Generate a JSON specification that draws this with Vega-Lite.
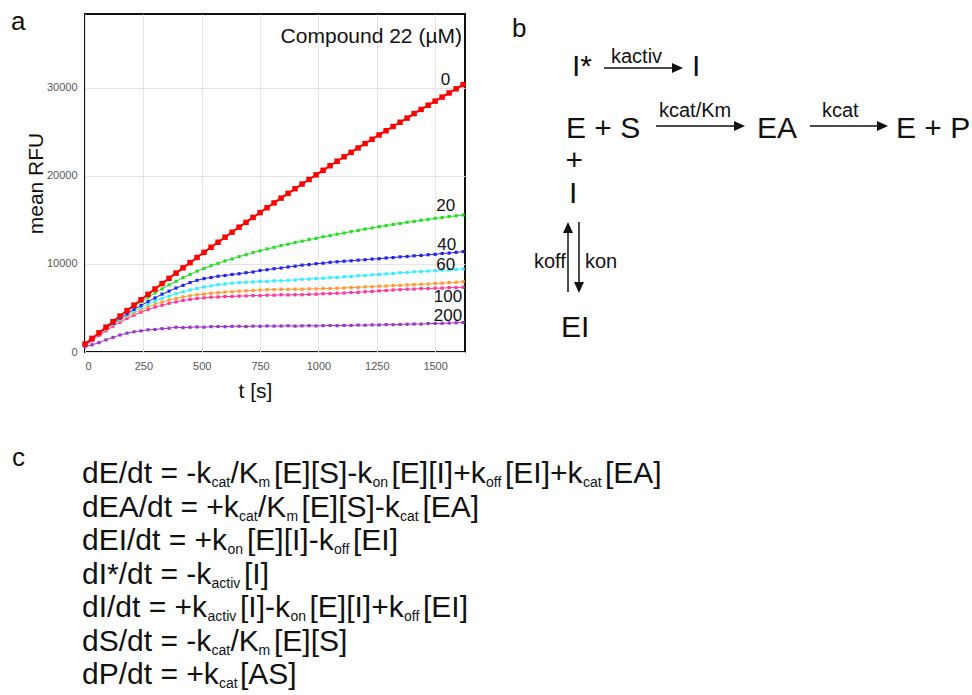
{
"$schema": "https://vega.github.io/schema/vega-lite/v6.json",
"width": 380,
"height": 338,
"autosize": "none",
"padding": {"left": 85, "top": 14, "right": 507, "bottom": 343},
"background": "white",
"config": {
"font": "Liberation Sans",
"view": {"stroke": "#111111", "strokeWidth": 2},
"axis": {"labelFont": "Liberation Sans", "titleFont": "Liberation Sans", "labelFontSize": 11, "labelColor": "#555555", "titleFontSize": 21, "titleFontWeight": "normal", "titleColor": "#111111", "gridColor": "#e4e4e4", "gridWidth": 1, "domain": false, "ticks": false},
"text": {"font": "Liberation Sans", "color": "#111111"}
},
"datasets": {
"curves": [
{"c":"200","t":0,"v":600},{"c":"200","t":30,"v":820},{"c":"200","t":60,"v":1060},{"c":"200","t":90,"v":1380},{"c":"200","t":120,"v":1660},{"c":"200","t":150,"v":1930},{"c":"200","t":180,"v":2140},{"c":"200","t":210,"v":2290},{"c":"200","t":240,"v":2400},{"c":"200","t":270,"v":2520},{"c":"200","t":300,"v":2560},{"c":"200","t":330,"v":2650},{"c":"200","t":360,"v":2700},{"c":"200","t":390,"v":2820},{"c":"200","t":420,"v":2760},{"c":"200","t":450,"v":2810},{"c":"200","t":480,"v":2850},{"c":"200","t":510,"v":2820},{"c":"200","t":540,"v":2880},{"c":"200","t":570,"v":2900},{"c":"200","t":600,"v":2870},{"c":"200","t":630,"v":2910},{"c":"200","t":660,"v":2930},{"c":"200","t":690,"v":2890},{"c":"200","t":720,"v":2940},{"c":"200","t":750,"v":2920},{"c":"200","t":780,"v":2960},{"c":"200","t":810,"v":2940},{"c":"200","t":840,"v":2950},{"c":"200","t":870,"v":2980},{"c":"200","t":900,"v":2940},{"c":"200","t":930,"v":2970},{"c":"200","t":960,"v":2990},{"c":"200","t":990,"v":2960},{"c":"200","t":1020,"v":2990},{"c":"200","t":1050,"v":3010},{"c":"200","t":1080,"v":2990},{"c":"200","t":1110,"v":3030},{"c":"200","t":1140,"v":3020},{"c":"200","t":1170,"v":3060},{"c":"200","t":1200,"v":3040},{"c":"200","t":1230,"v":3080},{"c":"200","t":1260,"v":3070},{"c":"200","t":1290,"v":3110},{"c":"200","t":1320,"v":3100},{"c":"200","t":1350,"v":3140},{"c":"200","t":1380,"v":3150},{"c":"200","t":1410,"v":3180},{"c":"200","t":1440,"v":3170},{"c":"200","t":1470,"v":3230},{"c":"200","t":1500,"v":3240},{"c":"200","t":1530,"v":3260},{"c":"200","t":1560,"v":3290},{"c":"200","t":1590,"v":3320},{"c":"200","t":1620,"v":3360},
{"c":"100","t":0,"v":700},{"c":"100","t":30,"v":1290},{"c":"100","t":60,"v":1890},{"c":"100","t":90,"v":2410},{"c":"100","t":120,"v":2930},{"c":"100","t":150,"v":3370},{"c":"100","t":180,"v":3810},{"c":"100","t":210,"v":4170},{"c":"100","t":240,"v":4530},{"c":"100","t":270,"v":4810},{"c":"100","t":300,"v":5100},{"c":"100","t":330,"v":5310},{"c":"100","t":360,"v":5530},{"c":"100","t":390,"v":5690},{"c":"100","t":420,"v":5860},{"c":"100","t":450,"v":5960},{"c":"100","t":480,"v":6090},{"c":"100","t":510,"v":6150},{"c":"100","t":540,"v":6230},{"c":"100","t":570,"v":6250},{"c":"100","t":600,"v":6300},{"c":"100","t":630,"v":6310},{"c":"100","t":660,"v":6360},{"c":"100","t":690,"v":6370},{"c":"100","t":720,"v":6410},{"c":"100","t":750,"v":6400},{"c":"100","t":780,"v":6460},{"c":"100","t":810,"v":6450},{"c":"100","t":840,"v":6500},{"c":"100","t":870,"v":6480},{"c":"100","t":900,"v":6510},{"c":"100","t":930,"v":6500},{"c":"100","t":960,"v":6550},{"c":"100","t":990,"v":6570},{"c":"100","t":1020,"v":6620},{"c":"100","t":1050,"v":6630},{"c":"100","t":1080,"v":6680},{"c":"100","t":1110,"v":6700},{"c":"100","t":1140,"v":6760},{"c":"100","t":1170,"v":6780},{"c":"100","t":1200,"v":6840},{"c":"100","t":1230,"v":6870},{"c":"100","t":1260,"v":6950},{"c":"100","t":1290,"v":6980},{"c":"100","t":1320,"v":7050},{"c":"100","t":1350,"v":7080},{"c":"100","t":1380,"v":7140},{"c":"100","t":1410,"v":7150},{"c":"100","t":1440,"v":7200},{"c":"100","t":1470,"v":7200},{"c":"100","t":1500,"v":7250},{"c":"100","t":1530,"v":7260},{"c":"100","t":1560,"v":7310},{"c":"100","t":1590,"v":7320},{"c":"100","t":1620,"v":7360},
{"c":"80","t":0,"v":820},{"c":"80","t":30,"v":1420},{"c":"80","t":60,"v":2030},{"c":"80","t":90,"v":2570},{"c":"80","t":120,"v":3110},{"c":"80","t":150,"v":3570},{"c":"80","t":180,"v":4030},{"c":"80","t":210,"v":4410},{"c":"80","t":240,"v":4800},{"c":"80","t":270,"v":5110},{"c":"80","t":300,"v":5430},{"c":"80","t":330,"v":5670},{"c":"80","t":360,"v":5910},{"c":"80","t":390,"v":6080},{"c":"80","t":420,"v":6270},{"c":"80","t":450,"v":6390},{"c":"80","t":480,"v":6510},{"c":"80","t":510,"v":6580},{"c":"80","t":540,"v":6680},{"c":"80","t":570,"v":6730},{"c":"80","t":600,"v":6810},{"c":"80","t":630,"v":6850},{"c":"80","t":660,"v":6920},{"c":"80","t":690,"v":6950},{"c":"80","t":720,"v":7010},{"c":"80","t":750,"v":7030},{"c":"80","t":780,"v":7080},{"c":"80","t":810,"v":7090},{"c":"80","t":840,"v":7130},{"c":"80","t":870,"v":7120},{"c":"80","t":900,"v":7140},{"c":"80","t":930,"v":7130},{"c":"80","t":960,"v":7170},{"c":"80","t":990,"v":7170},{"c":"80","t":1020,"v":7210},{"c":"80","t":1050,"v":7210},{"c":"80","t":1080,"v":7250},{"c":"80","t":1110,"v":7270},{"c":"80","t":1140,"v":7330},{"c":"80","t":1170,"v":7340},{"c":"80","t":1200,"v":7400},{"c":"80","t":1230,"v":7420},{"c":"80","t":1260,"v":7480},{"c":"80","t":1290,"v":7490},{"c":"80","t":1320,"v":7550},{"c":"80","t":1350,"v":7570},{"c":"80","t":1380,"v":7630},{"c":"80","t":1410,"v":7650},{"c":"80","t":1440,"v":7700},{"c":"80","t":1470,"v":7720},{"c":"80","t":1500,"v":7790},{"c":"80","t":1530,"v":7820},{"c":"80","t":1560,"v":7890},{"c":"80","t":1590,"v":7920},{"c":"80","t":1620,"v":7990},
{"c":"60","t":0,"v":830},{"c":"60","t":30,"v":1460},{"c":"60","t":60,"v":2040},{"c":"60","t":90,"v":2640},{"c":"60","t":120,"v":3170},{"c":"60","t":150,"v":3710},{"c":"60","t":180,"v":4170},{"c":"60","t":210,"v":4640},{"c":"60","t":240,"v":5040},{"c":"60","t":270,"v":5440},{"c":"60","t":300,"v":5770},{"c":"60","t":330,"v":6090},{"c":"60","t":360,"v":6350},{"c":"60","t":390,"v":6620},{"c":"60","t":420,"v":6830},{"c":"60","t":450,"v":7050},{"c":"60","t":480,"v":7210},{"c":"60","t":510,"v":7390},{"c":"60","t":540,"v":7510},{"c":"60","t":570,"v":7650},{"c":"60","t":600,"v":7730},{"c":"60","t":630,"v":7830},{"c":"60","t":660,"v":7870},{"c":"60","t":690,"v":7940},{"c":"60","t":720,"v":7960},{"c":"60","t":750,"v":8020},{"c":"60","t":780,"v":8030},{"c":"60","t":810,"v":8080},{"c":"60","t":840,"v":8090},{"c":"60","t":870,"v":8150},{"c":"60","t":900,"v":8180},{"c":"60","t":930,"v":8260},{"c":"60","t":960,"v":8290},{"c":"60","t":990,"v":8350},{"c":"60","t":1020,"v":8380},{"c":"60","t":1050,"v":8440},{"c":"60","t":1080,"v":8470},{"c":"60","t":1110,"v":8550},{"c":"60","t":1140,"v":8590},{"c":"60","t":1170,"v":8660},{"c":"60","t":1200,"v":8700},{"c":"60","t":1230,"v":8770},{"c":"60","t":1260,"v":8810},{"c":"60","t":1290,"v":8880},{"c":"60","t":1320,"v":8920},{"c":"60","t":1350,"v":9000},{"c":"60","t":1380,"v":9030},{"c":"60","t":1410,"v":9100},{"c":"60","t":1440,"v":9130},{"c":"60","t":1470,"v":9200},{"c":"60","t":1500,"v":9230},{"c":"60","t":1530,"v":9290},{"c":"60","t":1560,"v":9320},{"c":"60","t":1590,"v":9390},{"c":"60","t":1620,"v":9430},
{"c":"40","t":0,"v":850},{"c":"40","t":30,"v":1490},{"c":"40","t":60,"v":2090},{"c":"40","t":90,"v":2710},{"c":"40","t":120,"v":3260},{"c":"40","t":150,"v":3830},{"c":"40","t":180,"v":4330},{"c":"40","t":210,"v":4840},{"c":"40","t":240,"v":5280},{"c":"40","t":270,"v":5740},{"c":"40","t":300,"v":6140},{"c":"40","t":330,"v":6570},{"c":"40","t":360,"v":6910},{"c":"40","t":390,"v":7270},{"c":"40","t":420,"v":7570},{"c":"40","t":450,"v":7890},{"c":"40","t":480,"v":8140},{"c":"40","t":510,"v":8340},{"c":"40","t":540,"v":8460},{"c":"40","t":570,"v":8610},{"c":"40","t":600,"v":8690},{"c":"40","t":630,"v":8810},{"c":"40","t":660,"v":8890},{"c":"40","t":690,"v":9010},{"c":"40","t":720,"v":9090},{"c":"40","t":750,"v":9260},{"c":"40","t":780,"v":9340},{"c":"40","t":810,"v":9460},{"c":"40","t":840,"v":9540},{"c":"40","t":870,"v":9660},{"c":"40","t":900,"v":9750},{"c":"40","t":930,"v":9870},{"c":"40","t":960,"v":9930},{"c":"40","t":990,"v":10030},{"c":"40","t":1020,"v":10090},{"c":"40","t":1050,"v":10190},{"c":"40","t":1080,"v":10250},{"c":"40","t":1110,"v":10320},{"c":"40","t":1140,"v":10360},{"c":"40","t":1170,"v":10440},{"c":"40","t":1200,"v":10480},{"c":"40","t":1230,"v":10560},{"c":"40","t":1260,"v":10600},{"c":"40","t":1290,"v":10680},{"c":"40","t":1320,"v":10730},{"c":"40","t":1350,"v":10810},{"c":"40","t":1380,"v":10850},{"c":"40","t":1410,"v":10930},{"c":"40","t":1440,"v":10970},{"c":"40","t":1470,"v":11050},{"c":"40","t":1500,"v":11100},{"c":"40","t":1530,"v":11190},{"c":"40","t":1560,"v":11240},{"c":"40","t":1590,"v":11330},{"c":"40","t":1620,"v":11400},
{"c":"20","t":0,"v":880},{"c":"20","t":30,"v":1520},{"c":"20","t":60,"v":2160},{"c":"20","t":90,"v":2790},{"c":"20","t":120,"v":3420},{"c":"20","t":150,"v":4020},{"c":"20","t":180,"v":4610},{"c":"20","t":210,"v":5150},{"c":"20","t":240,"v":5710},{"c":"20","t":270,"v":6190},{"c":"20","t":300,"v":6710},{"c":"20","t":330,"v":7170},{"c":"20","t":360,"v":7630},{"c":"20","t":390,"v":8030},{"c":"20","t":420,"v":8450},{"c":"20","t":450,"v":8810},{"c":"20","t":480,"v":9190},{"c":"20","t":510,"v":9490},{"c":"20","t":540,"v":9810},{"c":"20","t":570,"v":10070},{"c":"20","t":600,"v":10350},{"c":"20","t":630,"v":10570},{"c":"20","t":660,"v":10830},{"c":"20","t":690,"v":11050},{"c":"20","t":720,"v":11290},{"c":"20","t":750,"v":11490},{"c":"20","t":780,"v":11710},{"c":"20","t":810,"v":11890},{"c":"20","t":840,"v":12090},{"c":"20","t":870,"v":12250},{"c":"20","t":900,"v":12440},{"c":"20","t":930,"v":12590},{"c":"20","t":960,"v":12770},{"c":"20","t":990,"v":12910},{"c":"20","t":1020,"v":13090},{"c":"20","t":1050,"v":13220},{"c":"20","t":1080,"v":13390},{"c":"20","t":1110,"v":13520},{"c":"20","t":1140,"v":13690},{"c":"20","t":1170,"v":13810},{"c":"20","t":1200,"v":13970},{"c":"20","t":1230,"v":14090},{"c":"20","t":1260,"v":14240},{"c":"20","t":1290,"v":14350},{"c":"20","t":1320,"v":14500},{"c":"20","t":1350,"v":14600},{"c":"20","t":1380,"v":14740},{"c":"20","t":1410,"v":14840},{"c":"20","t":1440,"v":14970},{"c":"20","t":1470,"v":15060},{"c":"20","t":1500,"v":15190},{"c":"20","t":1530,"v":15270},{"c":"20","t":1560,"v":15390},{"c":"20","t":1590,"v":15470},{"c":"20","t":1620,"v":15570},
{"c":"0","t":0,"v":900},{"c":"0","t":30,"v":1540},{"c":"0","t":60,"v":2180},{"c":"0","t":90,"v":2820},{"c":"0","t":120,"v":3450},{"c":"0","t":150,"v":4080},{"c":"0","t":180,"v":4700},{"c":"0","t":210,"v":5320},{"c":"0","t":240,"v":5940},{"c":"0","t":270,"v":6550},{"c":"0","t":300,"v":7160},{"c":"0","t":330,"v":7770},{"c":"0","t":360,"v":8370},{"c":"0","t":390,"v":8960},{"c":"0","t":420,"v":9560},{"c":"0","t":450,"v":10150},{"c":"0","t":480,"v":10740},{"c":"0","t":510,"v":11320},{"c":"0","t":540,"v":11900},{"c":"0","t":570,"v":12470},{"c":"0","t":600,"v":13040},{"c":"0","t":630,"v":13610},{"c":"0","t":660,"v":14180},{"c":"0","t":690,"v":14730},{"c":"0","t":720,"v":15290},{"c":"0","t":750,"v":15840},{"c":"0","t":780,"v":16390},{"c":"0","t":810,"v":16940},{"c":"0","t":840,"v":17480},{"c":"0","t":870,"v":18020},{"c":"0","t":900,"v":18550},{"c":"0","t":930,"v":19080},{"c":"0","t":960,"v":19600},{"c":"0","t":990,"v":20130},{"c":"0","t":1020,"v":20640},{"c":"0","t":1050,"v":21160},{"c":"0","t":1080,"v":21670},{"c":"0","t":1110,"v":22180},{"c":"0","t":1140,"v":22680},{"c":"0","t":1170,"v":23180},{"c":"0","t":1200,"v":23680},{"c":"0","t":1230,"v":24170},{"c":"0","t":1260,"v":24660},{"c":"0","t":1290,"v":25140},{"c":"0","t":1320,"v":25620},{"c":"0","t":1350,"v":26100},{"c":"0","t":1380,"v":26570},{"c":"0","t":1410,"v":27090},{"c":"0","t":1440,"v":27560},{"c":"0","t":1470,"v":28030},{"c":"0","t":1500,"v":28500},{"c":"0","t":1530,"v":28960},{"c":"0","t":1560,"v":29430},{"c":"0","t":1590,"v":29900},{"c":"0","t":1620,"v":30380}
],
"labels": [
{"k":"lab","s":"0","t":1565,"v":30900},
{"k":"lab","s":"20","t":1586,"v":16590},
{"k":"lab","s":"40","t":1590,"v":12160},
{"k":"lab","s":"60","t":1586,"v":9890},
{"k":"lab","s":"100","t":1616,"v":6200},
{"k":"lab","s":"200","t":1616,"v":4060},
{"k":"ttl","s":"Compound 22 (µM)","t":1615,"v":35800}
],
"txt": [
{"k":"pan","x":11,"y":30,"s":"a"},
{"k":"pan","x":512,"y":37,"s":"b"},
{"k":"pan","x":12,"y":466,"s":"c"},
{"k":"sp","x":572,"y":76,"s":"I*"},
{"k":"sp","x":692,"y":76,"s":"I"},
{"k":"sp","x":566,"y":138,"s":"E + S"},
{"k":"sp","x":757,"y":138,"s":"EA"},
{"k":"sp","x":896,"y":138,"s":"E + P"},
{"k":"sp","x":565.5,"y":170,"s":"+"},
{"k":"sp","x":569,"y":203,"s":"I"},
{"k":"sp","x":561,"y":337,"s":"EI"},
{"k":"rate","x":611,"y":63,"s":"kactiv"},
{"k":"rate","x":659,"y":117,"s":"kcat/Km"},
{"k":"rate","x":822,"y":117,"s":"kcat"},
{"k":"rate","x":534,"y":268,"s":"koff"},
{"k":"rate","x":585,"y":268,"s":"kon"},
{"k":"eq","x":82,"y":483,"s":"dE/dt = -k"},
{"k":"sub","x":211.5,"y":487,"s":"cat"},
{"k":"eq","x":230.5,"y":483,"s":"/K"},
{"k":"sub","x":258.5,"y":487,"s":"m"},
{"k":"eq","x":274,"y":483,"s":"[E][S]-k"},
{"k":"sub","x":372.5,"y":487,"s":"on"},
{"k":"eq","x":391.5,"y":483,"s":"[E][I]+k"},
{"k":"sub","x":486,"y":487,"s":"off"},
{"k":"eq","x":505,"y":483,"s":"[EI]+k"},
{"k":"sub","x":583,"y":487,"s":"cat"},
{"k":"eq","x":605,"y":483,"s":"[EA]"},
{"k":"eq","x":82,"y":516.5,"s":"dEA/dt = +k"},
{"k":"sub","x":239,"y":520.5,"s":"cat"},
{"k":"eq","x":258,"y":516.5,"s":"/K"},
{"k":"sub","x":286.5,"y":520.5,"s":"m"},
{"k":"eq","x":301.5,"y":516.5,"s":"[E][S]-k"},
{"k":"sub","x":400,"y":520.5,"s":"cat"},
{"k":"eq","x":422.5,"y":516.5,"s":"[EA]"},
{"k":"eq","x":82,"y":550,"s":"dEI/dt = +k"},
{"k":"sub","x":227.5,"y":554,"s":"on"},
{"k":"eq","x":247,"y":550,"s":"[E][I]-k"},
{"k":"sub","x":334,"y":554,"s":"off"},
{"k":"eq","x":353,"y":550,"s":"[EI]"},
{"k":"eq","x":82,"y":583.5,"s":"dI*/dt = -k"},
{"k":"sub","x":211.5,"y":587.5,"s":"activ"},
{"k":"eq","x":244,"y":583.5,"s":"[I]"},
{"k":"eq","x":82,"y":617,"s":"dI/dt = +k"},
{"k":"sub","x":207.5,"y":621,"s":"activ"},
{"k":"eq","x":240,"y":617,"s":"[I]-k"},
{"k":"sub","x":290.5,"y":621,"s":"on"},
{"k":"eq","x":309.5,"y":617,"s":"[E][I]+k"},
{"k":"sub","x":404,"y":621,"s":"off"},
{"k":"eq","x":423,"y":617,"s":"[EI]"},
{"k":"eq","x":82,"y":650.5,"s":"dS/dt = -k"},
{"k":"sub","x":211.5,"y":654.5,"s":"cat"},
{"k":"eq","x":230.5,"y":650.5,"s":"/K"},
{"k":"sub","x":258.5,"y":654.5,"s":"m"},
{"k":"eq","x":274,"y":650.5,"s":"[E][S]"},
{"k":"eq","x":82,"y":684,"s":"dP/dt = +k"},
{"k":"sub","x":219,"y":688,"s":"cat"},
{"k":"eq","x":240,"y":684,"s":"[AS]"}
],
"arrows": [
{"x":604,"y":68,"x2":676,"y2":68},
{"x":656,"y":126,"x2":738,"y2":126},
{"x":810,"y":126,"x2":881,"y2":126},
{"x":568,"y":292,"x2":568,"y2":229},
{"x":579,"y":222,"x2":579,"y2":286}
],
"heads": [
{"d":"r","x":677.5,"y":68},
{"d":"r","x":739.5,"y":126},
{"d":"r","x":882.5,"y":126},
{"d":"u","x":568,"y":227.5},
{"d":"d","x":579,"y":287.5}
]
},
"layer": [
{
"encoding": {
"x": {"field": "t", "type": "quantitative", "scale": {"domain": [0, 1628], "nice": false, "zero": false}, "axis": {"values": [0, 250, 500, 750, 1000, 1250, 1500], "format": "d", "title": "t [s]", "grid": true, "labelPadding": 8, "titleX": 170, "titleY": 45, "titleBaseline": "alphabetic", "titleAlign": "center"}},
"y": {"field": "v", "type": "quantitative", "scale": {"domain": [0, 38400], "nice": false, "zero": false}, "axis": {"values": [0, 10000, 20000, 30000], "format": "d", "title": "mean RFU", "grid": true, "labelPadding": 8, "titleX": -43, "titleY": 169, "titleAngle": -90, "titleBaseline": "alphabetic", "titleAlign": "center"}}
},
"layer": [
{"data": {"name": "curves"}, "transform": [{"filter": "datum.c != '0'"}], "mark": {"type": "line", "strokeWidth": 1},
"encoding": {"color": {"field": "c", "type": "nominal", "scale": {"domain": ["200", "100", "80", "60", "40", "20"], "range": ["#9933cc", "#ff3399", "#ff9933", "#33eeff", "#2222ee", "#22dd22"]}, "legend": null}}},
{"data": {"name": "curves"}, "transform": [{"filter": "datum.c != '0'"}], "mark": {"type": "point", "shape": "square", "filled": true, "size": 10, "opacity": 1},
"encoding": {"color": {"field": "c", "type": "nominal", "scale": {"domain": ["200", "100", "80", "60", "40", "20"], "range": ["#9933cc", "#ff3399", "#ff9933", "#33eeff", "#2222ee", "#22dd22"]}, "legend": null}}},
{"data": {"name": "curves"}, "transform": [{"filter": "datum.c == '0'"}], "mark": {"type": "line", "strokeWidth": 2, "color": "#ff0000"}, "encoding": {}},
{"data": {"name": "curves"}, "transform": [{"filter": "datum.c == '0'"}], "mark": {"type": "point", "shape": "square", "filled": true, "size": 30, "opacity": 1, "color": "#ff0000"}, "encoding": {}},
{"data": {"name": "labels"}, "transform": [{"filter": "datum.k == 'lab'"}], "mark": {"type": "text", "align": "right", "baseline": "middle", "fontSize": 17, "font": "Liberation Sans", "color": "#111111"}, "encoding": {"text": {"field": "s"}}},
{"data": {"name": "labels"}, "transform": [{"filter": "datum.k == 'ttl'"}], "mark": {"type": "text", "align": "right", "baseline": "middle", "fontSize": 21, "font": "Liberation Sans", "color": "#111111"}, "encoding": {"text": {"field": "s"}}}
]
},
{
"encoding": {
"x": {"field": "x", "type": "quantitative", "scale": {"domain": [85, 465], "nice": false, "zero": false}, "axis": null},
"y": {"field": "y", "type": "quantitative", "scale": {"domain": [14, 352], "reverse": true, "nice": false, "zero": false}, "axis": null}
},
"layer": [
{"data": {"name": "arrows"}, "mark": {"type": "rule", "strokeWidth": 1.5, "color": "#111111"}, "encoding": {"x2": {"field": "x2"}, "y2": {"field": "y2"}}},
{"data": {"name": "heads"}, "transform": [{"filter": "datum.d == 'r'"}], "mark": {"type": "point", "shape": "M1,0L-1,-0.9L-1,0.9Z", "filled": true, "size": 121, "opacity": 1, "color": "#111111", "strokeWidth": 0}},
{"data": {"name": "heads"}, "transform": [{"filter": "datum.d == 'u'"}], "mark": {"type": "point", "shape": "M0,-1L-0.9,1L0.9,1Z", "filled": true, "size": 121, "opacity": 1, "color": "#111111", "strokeWidth": 0}},
{"data": {"name": "heads"}, "transform": [{"filter": "datum.d == 'd'"}], "mark": {"type": "point", "shape": "M0,1L-0.9,-1L0.9,-1Z", "filled": true, "size": 121, "opacity": 1, "color": "#111111", "strokeWidth": 0}},
{"data": {"name": "txt"}, "transform": [{"filter": "datum.k == 'pan'"}], "mark": {"type": "text", "align": "left", "baseline": "alphabetic", "fontSize": 26, "font": "Liberation Sans", "color": "#111111"}, "encoding": {"text": {"field": "s"}}},
{"data": {"name": "txt"}, "transform": [{"filter": "datum.k == 'sp'"}], "mark": {"type": "text", "align": "left", "baseline": "alphabetic", "fontSize": 30, "font": "Liberation Sans", "color": "#111111"}, "encoding": {"text": {"field": "s"}}},
{"data": {"name": "txt"}, "transform": [{"filter": "datum.k == 'rate'"}], "mark": {"type": "text", "align": "left", "baseline": "alphabetic", "fontSize": 20, "font": "Liberation Sans", "color": "#111111"}, "encoding": {"text": {"field": "s"}}},
{"data": {"name": "txt"}, "transform": [{"filter": "datum.k == 'eq'"}], "mark": {"type": "text", "align": "left", "baseline": "alphabetic", "fontSize": 30, "font": "Liberation Sans", "color": "#111111"}, "encoding": {"text": {"field": "s"}}},
{"data": {"name": "txt"}, "transform": [{"filter": "datum.k == 'sub'"}], "mark": {"type": "text", "align": "left", "baseline": "alphabetic", "fontSize": 14, "font": "Liberation Sans", "color": "#111111"}, "encoding": {"text": {"field": "s"}}}
]
}
],
"resolve": {"scale": {"x": "independent", "y": "independent"}}
}
